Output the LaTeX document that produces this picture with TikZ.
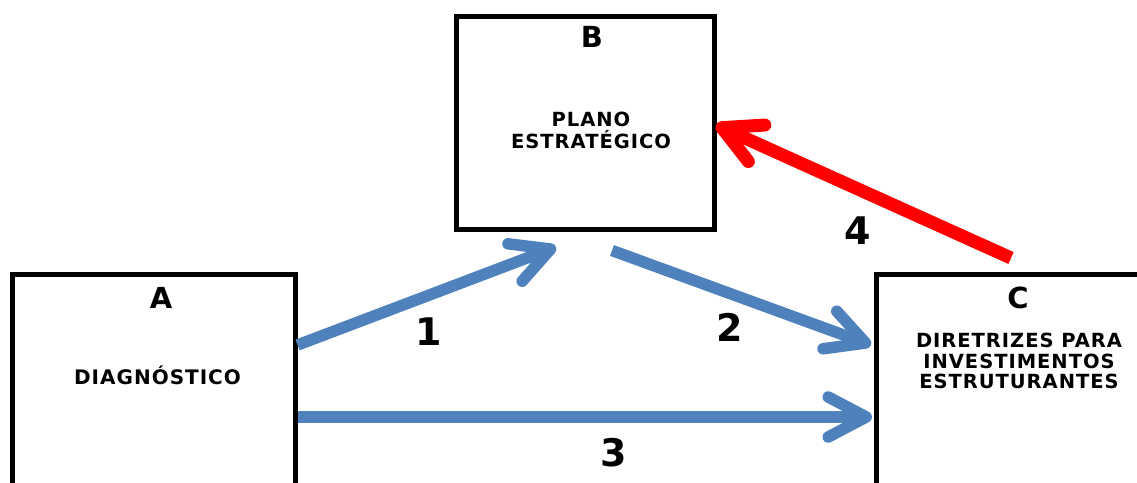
\documentclass[tikz,border=0pt]{standalone}
\usepackage{fontspec}
\setmainfont{DejaVu Sans}
\newfontfamily\boxfont[LetterSpace=5]{DejaVu Sans}
\usetikzlibrary{arrows.meta}
\definecolor{flowblue}{HTML}{4F81BD}
\definecolor{flowred}{HTML}{FF0000}
\definecolor{flowshade}{HTML}{A2A2A2}

\begin{document}
\begin{tikzpicture}[x=1pt,y=-1pt,
  box/.style={draw=black, line width=5pt, fill=white, inner sep=0pt,
    outer sep=0pt, anchor=north west},
  letter/.style={font=\fontsize{29}{29}\selectfont\bfseries, inner sep=0pt},
  body/.style={font=\boxfont\fontsize{19.5}{21.5}\selectfont\bfseries,
    align=center, inner sep=0pt},
  num/.style={font=\fontsize{38}{38}\selectfont\bfseries, inner sep=0pt},
  flow/.style={line width=11.5pt, draw=flowblue,
    -{Straight Barb[round, length=38pt, width=40pt]},
    preaction={draw=flowshade, transform canvas={shift={(1.8pt,-2.5pt)}}}},
  flowback/.style={flow, draw=flowred, line width=13pt},
]
\path[use as bounding box] (0,0) rectangle (1137,482);
\clip (0,0) rectangle (1137,482);

% the three stages
\node[box, minimum width=257.5pt, minimum height=213pt] (B) at (456.5,16.5) {};
\node[box, minimum width=282.5pt, minimum height=300pt] (A) at (12.5,274) {};
\node[box, minimum width=282.5pt, minimum height=300pt] (C) at (876.5,274.5) {};

\node[letter] (Bl) at (592,37) {B};
\node[body, anchor=north] (Bt) at (591,112) {PLANO\\ESTRATÉGICO};

\node[letter] (Al) at (161,297.5) {A};
\node[body, anchor=base, font=\boxfont\fontsize{20}{22}\selectfont\bfseries]
  (At) at (157.5,384) {DIAGNÓSTICO};

\node[letter] (Cl) at (1018,297.5) {C};
\node[body, anchor=north, font=\boxfont\fontsize{19.5}{20.5}\selectfont\bfseries]
  (Ct) at (1019,333) {DIRETRIZES PARA\\INVESTIMENTOS\\ESTRUTURANTES};

% arrow end points
\coordinate (a1) at (297.5,345);
\coordinate (b1) at (556,247);
\coordinate (a2) at (612,250.5);
\coordinate (b2) at (871,345);
\coordinate (a3) at (297.5,417);
\coordinate (b3) at (872,417);
\coordinate (a4) at (1011,258);
\coordinate (b4) at (716,125);

\draw[flow] (a1) -- (b1);
\draw[flow] (a2) -- (b2);
\draw[flow] (a3) -- (b3);
\draw[flowback] (a4) -- (b4);

% step numbers
\node[num] (n1) at (429,332) {1};
\node[num] (n2) at (730,327) {2};
\node[num] (n3) at (613.5,452.5) {3};
\node[num] (n4) at (858,231) {4};
\end{tikzpicture}
\end{document}
